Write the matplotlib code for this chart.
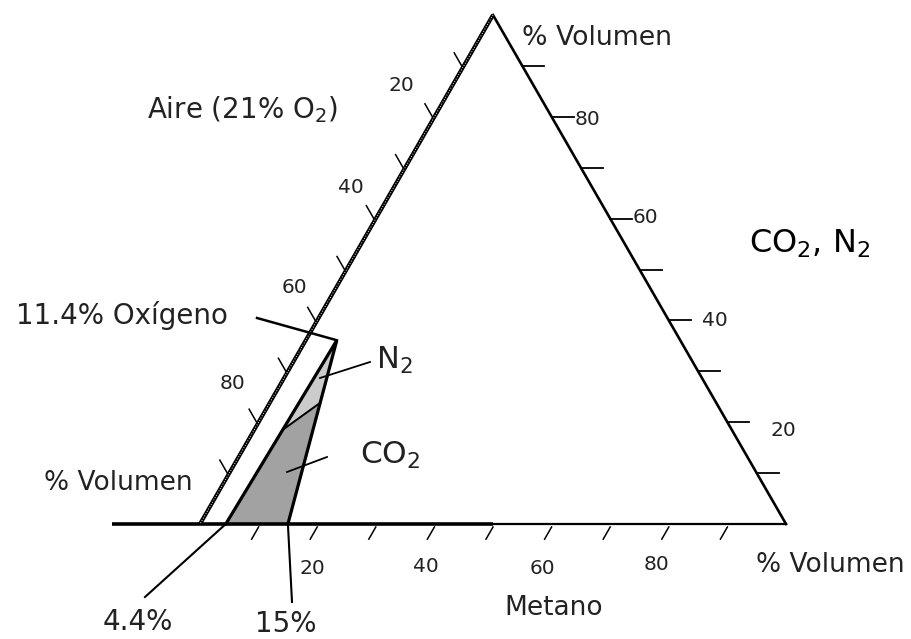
import matplotlib
matplotlib.use("Agg")
import matplotlib.pyplot as plt
import numpy as np

plt.rcParams['font.family'] = ['DejaVu Sans']

# ---------------- data (ternary, % volume) ----------------
tick_steps = [10, 20, 30, 40, 50, 60, 70, 80, 90]      # tick marks on every side
tick_labels = [20, 40, 60, 80]                          # labelled ticks
methane_lower = 4.4          # lower flammability limit (methane %)
methane_upper = 15.0         # upper flammability limit (methane %)
nose_methane = 5.3           # nose of flammable zone, methane %
nose_inert = 36.1            # nose of flammable zone, inert (apex) %
oxygen_at_nose = 11.4        # label value
co2_split_inert = [18.5, 23.8]   # CO2-zone upper edge (inert %) on left / right boundary
base_left_extension = -15.0  # base line drawn beyond the left vertex (methane units)
base_thick_until = 50.0

# ---------------- layout (pixels) ----------------
BLX, BASE_Y = 200.0, 524.0
W = 586.0
H = 509.0
TXT = '#222222'

def tern(m, a):
    """methane %, apex component % -> pixel coords"""
    m = np.asarray(m, float); a = np.asarray(a, float)
    return BLX + W * m / 100 + W / 2 * a / 100, BASE_Y - H * a / 100

fig = plt.figure(figsize=(9.11, 6.39), dpi=100)
ax = fig.add_axes([0, 0, 1, 1])
ax.set_xlim(0, 911)
ax.set_ylim(639, 0)
ax.axis('off')

apex = tern(0, 100)
bl = tern(0, 0)
br = tern(100, 0)

# flammable zone
def on_left_boundary(a):
    t = a / nose_inert
    return methane_lower + t * (nose_methane - methane_lower), a

def on_right_boundary(a):
    t = a / nose_inert
    return methane_upper + t * (nose_methane - methane_upper), a

zone_m = [methane_lower, nose_methane, methane_upper]
zone_a = [0, nose_inert, 0]
zx, zy = tern(zone_m, zone_a)
ax.fill(zx, zy, color='#cbcbcb', zorder=1)

lm, la = on_left_boundary(co2_split_inert[0])
rm, ra = on_right_boundary(co2_split_inert[1])
cx, cy = tern([methane_lower, lm, rm, methane_upper], [0, la, ra, 0])
ax.fill(cx, cy, color='#a2a2a2', zorder=1)
ax.plot(cx[1:3], cy[1:3], color='black', lw=1.4, zorder=3)
ax.plot(zx, zy, color='black', lw=2.3, zorder=3, solid_joinstyle='miter')

# triangle edges
ax.plot([apex[0], bl[0]], [apex[1], bl[1]], color='black', lw=2.9, zorder=4,
        solid_capstyle='butt')
ax.plot([apex[0], bl[0]], [apex[1], bl[1]], color='white', lw=0.7, zorder=5,
        linestyle=(0, (0.9, 1.8)))
ax.plot([apex[0], br[0]], [apex[1], br[1]], color='black', lw=1.9, zorder=4)
ex, ey = tern([base_left_extension, base_thick_until], [0, 0])
ax.plot(ex, ey, color='black', lw=2.6, zorder=4, solid_capstyle='butt')
ex2, ey2 = tern([base_thick_until, 100], [0, 0])
ax.plot(ex2, ey2, color='black', lw=1.6, zorder=4)

# ticks
def unit(v):
    v = np.asarray(v, float)
    return v / np.hypot(*v)

d_bottom = unit([-W / 2, H]) * 14          # parallel to left edge, downwards
d_left = unit([-W / 2, -H]) * 15           # parallel to right edge, upwards
for s in tick_steps:
    x0, y0 = tern(s, 0)
    ax.plot([x0, x0 + d_bottom[0]], [y0 + 3, y0 + 3 + d_bottom[1]], color='black', lw=1.1)
    # left edge: s% from apex
    x1 = apex[0] + s / 100 * (bl[0] - apex[0])
    y1 = apex[1] + s / 100 * (bl[1] - apex[1])
    ax.plot([x1 - 2, x1 - 2 + d_left[0]], [y1, y1 + d_left[1]], color='black', lw=1.1)
    # right edge: apex component s%
    x2, y2 = tern(100 - s, s)
    ax.plot([x2, x2 + 22], [y2, y2], color='black', lw=1.3)

# tick labels (offsets in the order of tick_labels: 20, 40, 60, 80)
bottom_off = [(-5, 45), (-9, 42), (-9, 44), (-12, 41)]
left_off = [(-33, -31), (-25, -31), (-23, -33), (-26, -39)]
right_off = [(56, 8), (46, 0), (35, -1), (36, 3)]
for v, bo, lo, ro in zip(tick_labels, bottom_off, left_off, right_off):
    x0, y0 = tern(v, 0)
    ax.text(x0 + bo[0], y0 + bo[1], str(v), fontsize=14.5, color=TXT,
            ha='center', va='center')
    x1 = apex[0] + v / 100 * (bl[0] - apex[0])
    y1 = apex[1] + v / 100 * (bl[1] - apex[1])
    ax.text(x1 + lo[0], y1 + lo[1], str(v), fontsize=14.5, color=TXT,
            ha='center', va='center')
    x2, y2 = tern(100 - v, v)
    ax.text(x2 + ro[0], y2 + ro[1], str(v), fontsize=14.5, color=TXT,
            ha='center', va='center')

# leaders
nx, ny = tern(nose_methane, nose_inert)
ax.plot([257, nx], [318, ny], color='black', lw=1.8, zorder=6)
lx, ly = tern(methane_lower, 0)
ax.plot([145, lx], [597, ly], color='black', lw=1.5, zorder=6)
ux, uy = tern(methane_upper, 0)
ax.plot([292, ux], [602, uy], color='black', lw=1.5, zorder=6)
ax.plot([370, 320], [362, 378], color='black', lw=1.3, zorder=6)
ax.plot([327, 287], [457, 472], color='black', lw=1.3, zorder=6)

# texts
ax.text(242, 110, 'Aire (21% O$_2$)', fontsize=20, color=TXT, ha='center', va='center')
ax.text(597, 38, '% Volumen', fontsize=19.3, color=TXT, ha='center', va='center')
ax.text(810, 244, 'CO$_2$, N$_2$', fontsize=23, color='black', ha='center', va='center')
ax.text(122, 316, f'{oxygen_at_nose}% Oxígeno', fontsize=20, color=TXT, ha='center', va='center')
ax.text(394, 360, 'N$_2$', fontsize=22, color=TXT, ha='center', va='center')
ax.text(390, 455, 'CO$_2$', fontsize=22.5, color=TXT, ha='center', va='center')
ax.text(118, 483, '% Volumen', fontsize=19, color=TXT, ha='center', va='center')
ax.text(830, 565, '% Volumen', fontsize=19, color=TXT, ha='center', va='center')
ax.text(554, 608, 'Metano', fontsize=19, color=TXT, ha='center', va='center')
ax.text(138, 622, f'{methane_lower}%', fontsize=20, color=TXT, ha='center', va='center')
ax.text(286, 624, f'{methane_upper:.0f}%', fontsize=20, color=TXT, ha='center', va='center')

fig.savefig('out.png', dpi=100, facecolor='white')
